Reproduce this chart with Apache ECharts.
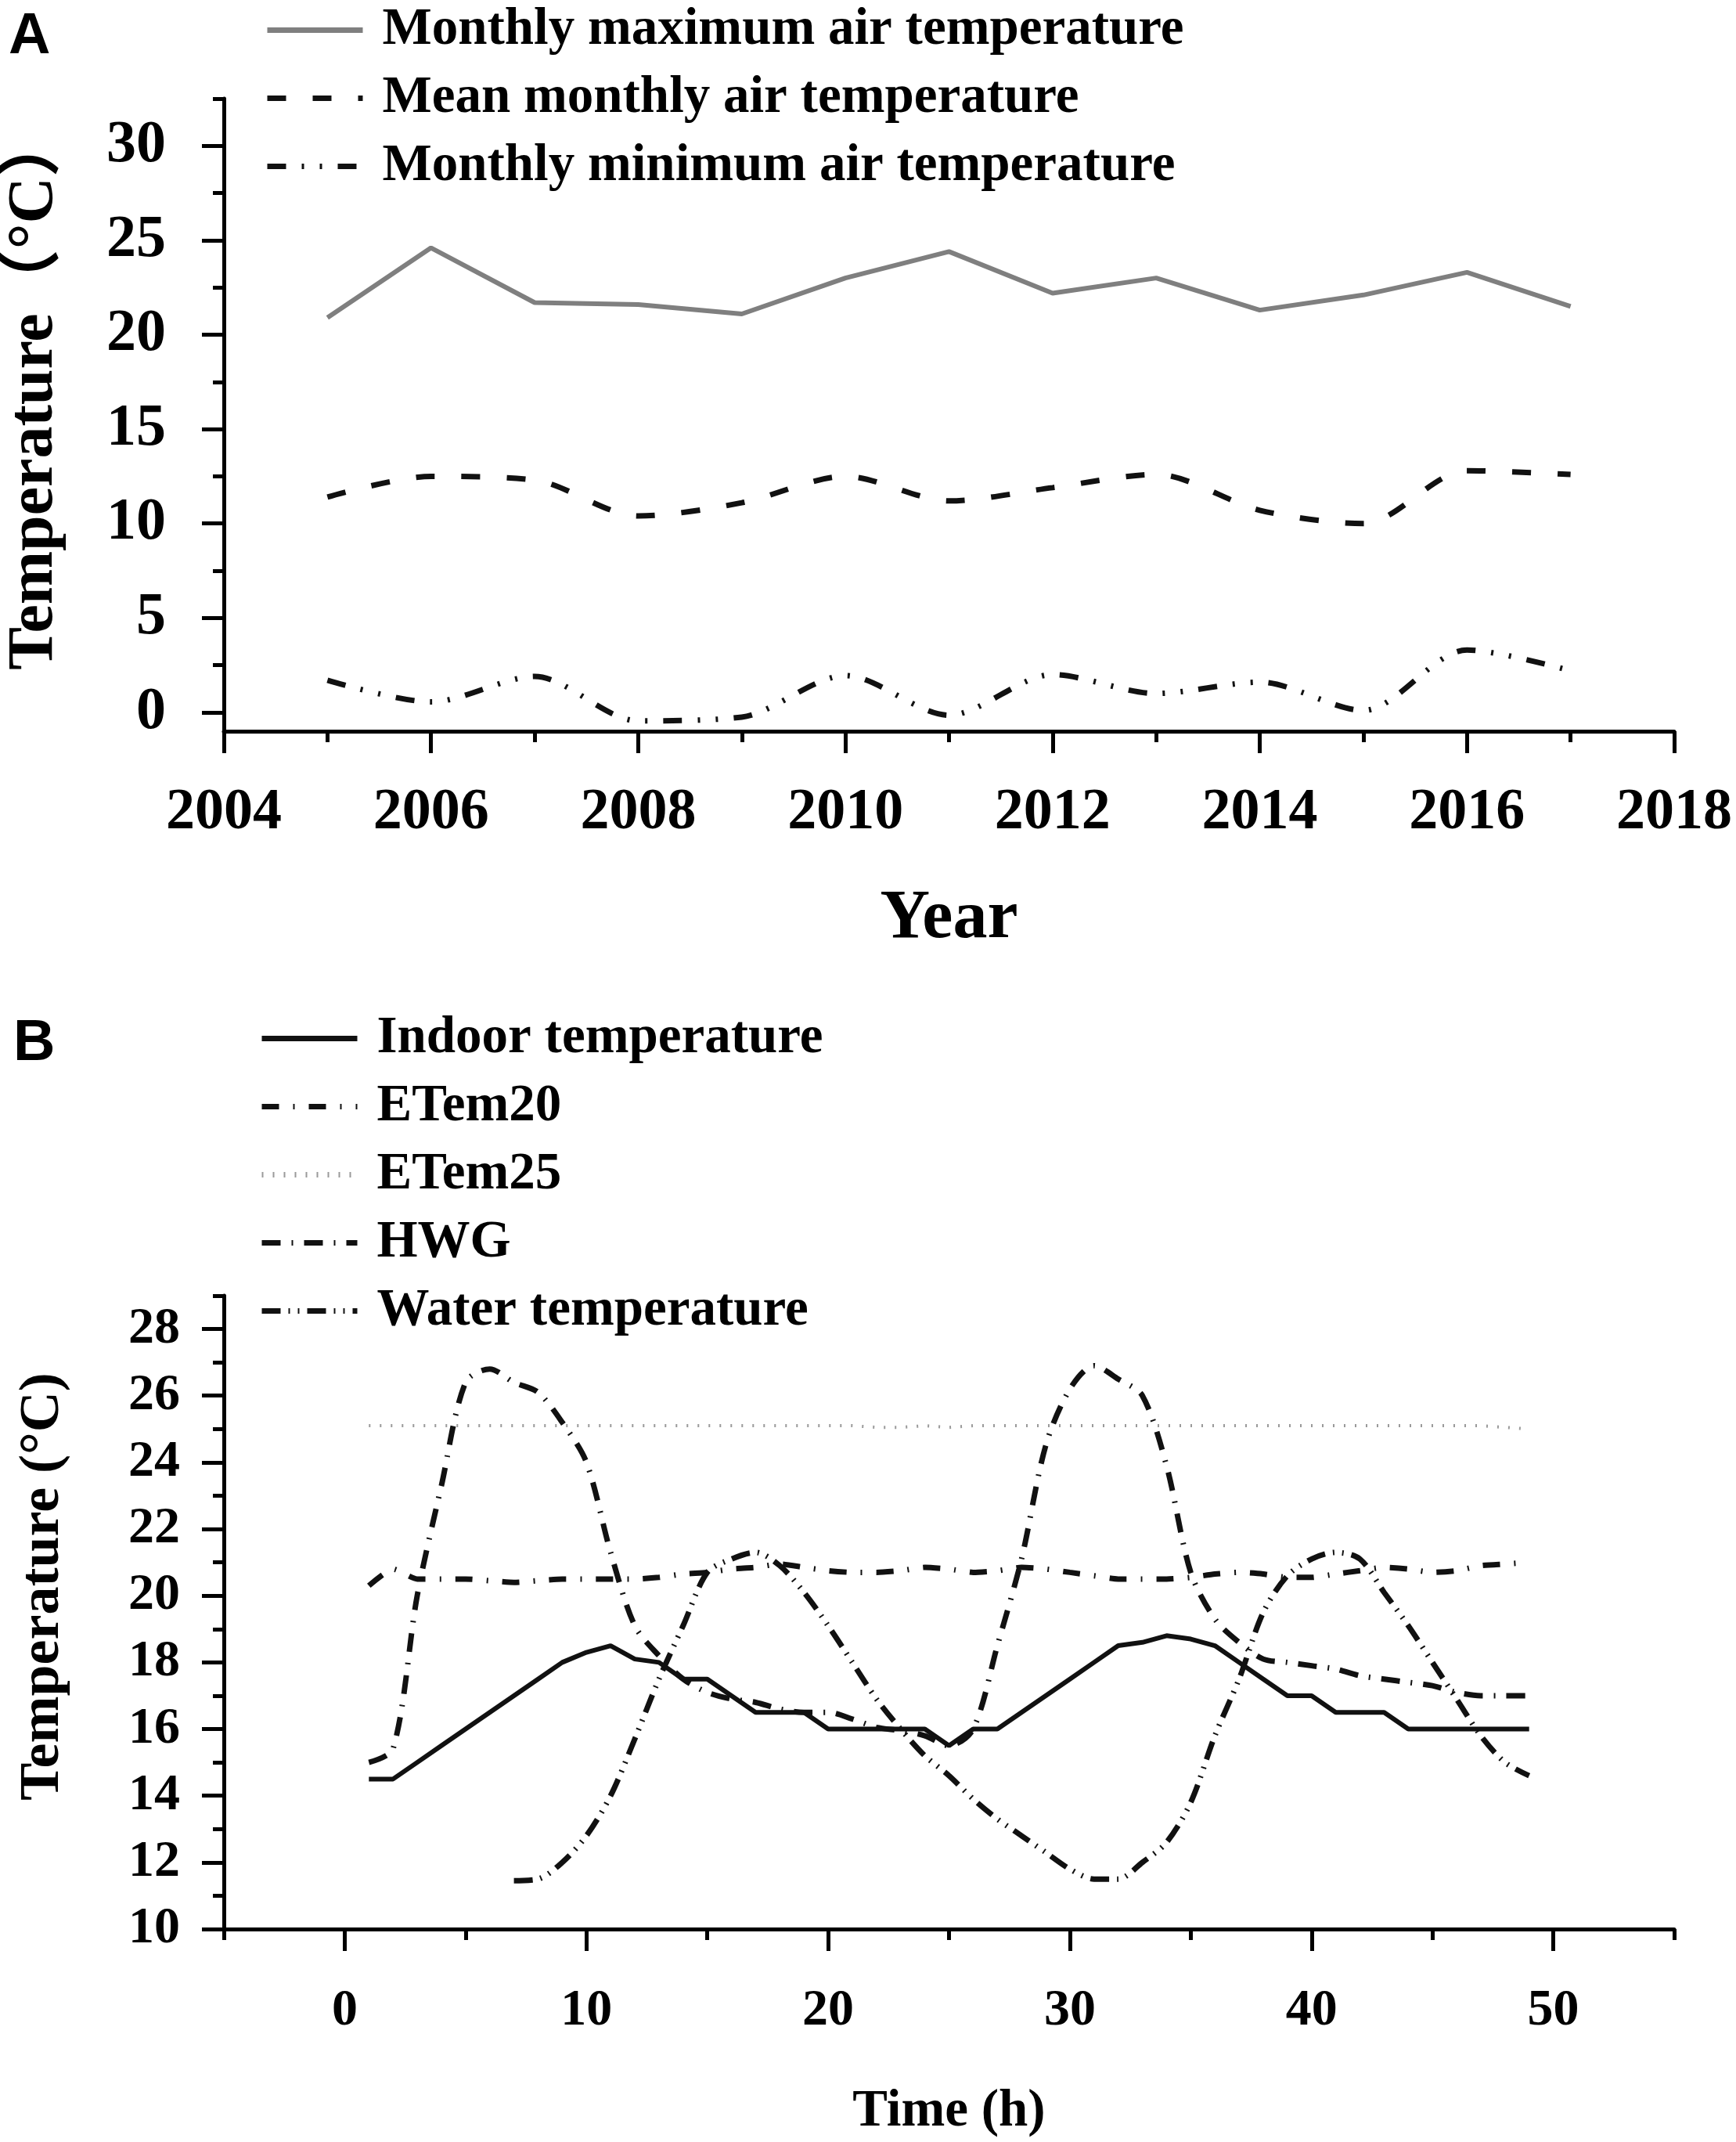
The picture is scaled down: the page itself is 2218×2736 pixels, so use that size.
<!DOCTYPE html>
<html>
<head>
<meta charset="utf-8">
<title>Temperature panels</title>
<style>
  html, body { margin: 0; padding: 0; background: #fff; }
  #main { width: 2218px; height: 2736px; }
</style>
</head>
<body>
<div id="main"></div>
<script src="https://cdn.jsdelivr.net/npm/echarts@6/dist/echarts.min.js"></script>
<script>
// ---- panel A : yearly air temperature ----
var years = [2005, 2006, 2007, 2008, 2009, 2010, 2011, 2012, 2013, 2014, 2015, 2016, 2017];
var maxTemp = [20.9, 24.6, 21.7, 21.6, 21.1, 23.0, 24.4, 22.2, 23.0, 21.3, 22.1, 23.3, 21.5];
var meanTemp = [11.4, 12.5, 12.3, 10.4, 11.1, 12.5, 11.2, 11.9, 12.6, 10.7, 10.0, 12.8, 12.6];
var minTemp = [1.7, 0.55, 1.9, -0.45, -0.25, 1.95, -0.15, 2.0, 1.0, 1.6, 0.1, 3.3, 2.2];
var yearTicks = [2004, 2006, 2008, 2010, 2012, 2014, 2016, 2018];
var yearMinorTicks = [2005, 2007, 2009, 2011, 2013, 2015, 2017];
var tempTicksA = [0, 5, 10, 15, 20, 25, 30];
var tempMinorTicksA = [2.5, 7.5, 12.5, 17.5, 22.5, 27.5, 32.5];

// ---- panel B : hourly temperatures ----
var hours = [1, 2, 3, 4, 5, 6, 7, 8, 9, 10, 11, 12, 13, 14, 15, 16, 17, 18, 19, 20,
  21, 22, 23, 24, 25, 26, 27, 28, 29, 30, 31, 32, 33, 34, 35, 36, 37, 38, 39, 40,
  41, 42, 43, 44, 45, 46, 47, 48, 49];
var indoor = [14.5, 14.5, 15.0, 15.5, 16.0, 16.5, 17.0, 17.5, 18.0, 18.3,
  18.5, 18.1, 18.0, 17.5, 17.5, 17.0, 16.5, 16.5, 16.5, 16.0,
  16.0, 16.0, 16.0, 16.0, 15.5, 16.0, 16.0, 16.5, 17.0, 17.5,
  18.0, 18.5, 18.6, 18.8, 18.7, 18.5, 18.0, 17.5, 17.0, 17.0,
  16.5, 16.5, 16.5, 16.0, 16.0, 16.0, 16.0, 16.0, 16.0];
var etem20 = [20.3, 20.8, 20.5, 20.5, 20.5, 20.45, 20.4, 20.45, 20.5, 20.5,
  20.5, 20.5, 20.55, 20.65, 20.7, 20.8, 20.85, 20.95, 20.85, 20.75,
  20.7, 20.7, 20.75, 20.85, 20.8, 20.7, 20.75, 20.85, 20.8, 20.7,
  20.6, 20.5, 20.5, 20.5, 20.55, 20.65, 20.7, 20.65, 20.55, 20.55,
  20.65, 20.75, 20.85, 20.8, 20.7, 20.75, 20.9, 20.95, 21.0];
var etem25 = [25.1, 25.1, 25.1, 25.1, 25.1, 25.1, 25.1, 25.1, 25.1, 25.1,
  25.1, 25.1, 25.1, 25.1, 25.1, 25.1, 25.1, 25.1, 25.1, 25.1,
  25.1, 25.05, 25.05, 25.1, 25.05, 25.1, 25.1, 25.1, 25.1, 25.1,
  25.1, 25.1, 25.1, 25.1, 25.1, 25.1, 25.1, 25.1, 25.1, 25.1,
  25.1, 25.1, 25.1, 25.1, 25.1, 25.1, 25.1, 25.05, 25.0];
var hwg = [15.0, 15.4, 20.0, 23.3, 26.4, 26.8, 26.4, 26.1, 25.2, 24.0,
  21.3, 19.1, 18.2, 17.5, 17.1, 16.9, 16.8, 16.6, 16.5, 16.5,
  16.3, 16.05, 15.95, 15.8, 15.5, 16.0, 18.5, 21.1, 24.5, 26.2,
  26.9, 26.5, 26.0, 23.9, 20.7, 19.3, 18.6, 18.1, 18.0, 17.9,
  17.8, 17.6, 17.5, 17.4, 17.3, 17.1, 17.0, 17.0, 17.0];
var water = [null, null, null, null, null, null, 11.45, 11.5, 12.0, 12.8,
  14.0, 15.7, 17.5, 19.1, 20.7, 21.1, 21.3, 20.9, 20.1, 19.1,
  18.0, 16.9, 16.0, 15.2, 14.6, 13.9, 13.3, 12.8, 12.3, 11.8,
  11.5, 11.5, 12.0, 12.6, 13.8, 15.8, 17.5, 19.5, 20.6, 21.1,
  21.3, 21.1, 20.1, 19.1, 18.0, 16.9, 15.8, 15.0, 14.6];
var hourTicks = [0, 10, 20, 30, 40, 50];
var hourMinorTicks = [-5, 5, 15, 25, 35, 45, 55];
var tempTicksB = [10, 12, 14, 16, 18, 20, 22, 24, 26, 28];
var tempMinorTicksB = [11, 13, 15, 17, 19, 21, 23, 25, 27, 29];

var serif = "'Liberation Serif', 'Times New Roman', 'Noto Sans CJK SC', serif";

function pairs(xs, ys) {
  return xs.map(function (x, i) { return [x, ys[i]]; });
}

function boldText(size) {
  return { fontSize: size, fontWeight: 'bold', fontFamily: serif, color: '#000' };
}

// one axis carries the axis line, long ticks and labels; a second one on the
// same spot only draws the short minor ticks
function mainAxis(grid, min, max, ticks, labelSize, margin, name, nameGap, nameSize) {
  var lab = boldText(labelSize);
  lab.customValues = ticks;
  lab.margin = margin;
  lab.formatter = function (v) { return String(v); };
  return {
    gridIndex: grid, type: 'value', min: min, max: max,
    axisLine: { show: true, onZero: false, lineStyle: { color: '#000', width: 5 } },
    axisTick: { show: true, inside: false, length: 28, customValues: ticks,
                lineStyle: { color: '#000', width: 5 } },
    axisLabel: lab,
    splitLine: { show: false },
    name: name, nameLocation: 'middle', nameGap: nameGap,
    nameTextStyle: boldText(nameSize)
  };
}
function minorAxis(grid, min, max, ticks) {
  return {
    gridIndex: grid, type: 'value', min: min, max: max,
    axisLine: { show: false, onZero: false },
    axisTick: { show: true, inside: false, length: 14, customValues: ticks,
                lineStyle: { color: '#000', width: 5 } },
    axisLabel: { show: false },
    splitLine: { show: false }
  };
}

var xA = mainAxis(0, 2004, 2018, yearTicks, 74, 68, 'Year', 196, 88);
xA.position = 'bottom';
var xAm = minorAxis(0, 2004, 2018, yearMinorTicks); xAm.position = 'bottom';
var yA = mainAxis(0, -1, 32.5, tempTicksA, 76, 74, 'Temperature（°C）', 200, 82);
yA.position = 'left';
yA.nameTextStyle.padding = [0, 0, 0, 60];   // nudge the title upward a little
var yAm = minorAxis(0, -1, 32.5, tempMinorTicksA); yAm.position = 'left';

var xB = mainAxis(1, -5, 55, hourTicks, 66, 72, 'Time (h)', 200, 67);
xB.position = 'bottom';
var xBm = minorAxis(1, -5, 55, hourMinorTicks); xBm.position = 'bottom';
var yB = mainAxis(1, 10, 29, tempTicksB, 66, 56, 'Temperature (°C)', 195, 72);
yB.position = 'left';
yB.nameTextStyle.padding = [0, 0, 0, 66];
var yBm = minorAxis(1, 10, 29, tempMinorTicksB); yBm.position = 'left';

function lineSeries(name, xi, xs, ys, color, width, dash, smooth) {
  return {
    name: name, type: 'line', xAxisIndex: xi, yAxisIndex: xi,
    data: pairs(xs, ys), symbol: 'none', smooth: smooth,
    connectNulls: false,
    itemStyle: { color: color },
    lineStyle: { color: color, width: width, type: dash, cap: 'butt' }
  };
}

function legendAt(left, top, names) {
  var ts = boldText(67);
  ts.lineHeight = 66;
  ts.padding = [0, 0, 0, 20];
  return {
    left: left, top: top, orient: 'vertical',
    itemWidth: 122, itemHeight: 20, itemGap: 20,
    selectedMode: false,
    textStyle: ts,
    itemStyle: { opacity: 0 },
    lineStyle: { width: 7 },
    data: names
  };
}

var chart = echarts.init(document.getElementById('main'), null, { renderer: 'canvas' });

chart.setOption({
  animation: false,
  backgroundColor: '#fff',
  title: [
    { text: 'A', left: 6, top: 6,
      textStyle: { fontSize: 74, fontWeight: 'bold', fontFamily: "'Liberation Sans', Arial, sans-serif", color: '#000' } },
    { text: 'B', left: 12, top: 1292,
      textStyle: { fontSize: 74, fontWeight: 'bold', fontFamily: "'Liberation Sans', Arial, sans-serif", color: '#000' } }
  ],
  legend: [
    legendAt(333, 0, ['Monthly maximum air temperature', 'Mean monthly air temperature',
      'Monthly minimum air temperature']),
    legendAt(326, 1288, ['Indoor temperature', 'ETem20', 'ETem25', 'HWG', 'Water temperature'])
  ],
  grid: [
    { left: 286, top: 126, width: 1853, height: 808, containLabel: false, outerBoundsMode: 'none' },
    { left: 286, top: 1655, width: 1853, height: 809, containLabel: false, outerBoundsMode: 'none' }
  ],
  xAxis: [xA, xAm, xB, xBm],
  yAxis: [yA, yAm, yB, yBm],
  series: [
    lineSeries('Monthly maximum air temperature', 0, years, maxTemp, '#7f7f7f', 6, 'solid', false),
    lineSeries('Mean monthly air temperature', 0, years, meanTemp, '#111', 7, [24, 34], 0.3),
    lineSeries('Monthly minimum air temperature', 0, years, minTemp, '#111', 7, [24, 20, 3, 20, 3, 20], 0.3),

    lineSeries('Indoor temperature', 2, hours, indoor, '#111', 6, 'solid', false),
    lineSeries('ETem20', 2, hours, etem20, '#111', 7, [22, 18, 2, 18], 0.2),
    lineSeries('ETem25', 2, hours, etem25, '#9a9a9a', 4, [2, 12], false),
    lineSeries('HWG', 2, hours, hwg, '#111', 7, [24, 14, 2, 14], 0.3),
    lineSeries('Water temperature', 2, hours, water, '#111', 7, [24, 10, 2, 10, 2, 10], 0.3)
  ]
});
</script>
</body>
</html>
